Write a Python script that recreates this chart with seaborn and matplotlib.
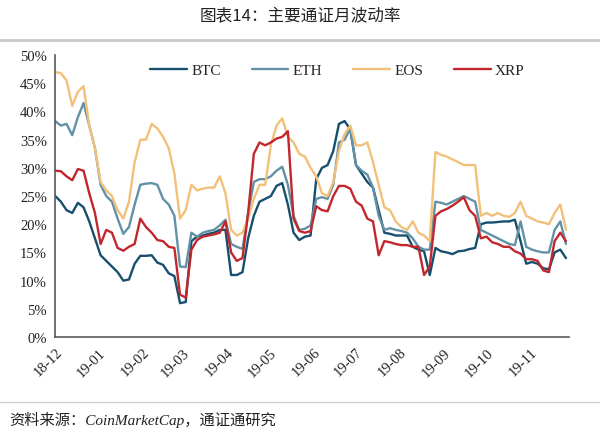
import numpy as np
import pandas as pd
import matplotlib
matplotlib.use("Agg")
import matplotlib.pyplot as plt
import matplotlib.dates as mdates
import seaborn as sns

# 月波动率（%），每4天一个读数，2018-12-01 起
dates = pd.date_range("2018-12-01", periods=91, freq="4D")

btc = [25.0, 24.0, 22.5, 22.0, 23.8, 23.0, 20.5, 17.5, 14.5, 13.5,
       12.5, 11.5, 10.0, 10.2, 13.0, 14.4, 14.4, 14.5, 13.2, 12.8,
       11.3, 10.8, 6.0, 6.2, 17.0, 17.8, 18.0, 18.3, 18.5, 19.0,
       19.0, 11.0, 11.0, 11.5, 17.5, 21.5, 24.0, 24.5, 25.0, 26.8,
       27.3, 23.5, 18.5, 17.2, 17.8, 18.0, 28.0, 30.0, 30.5, 33.0,
       37.8, 38.3, 36.8, 30.5, 29.0, 27.5, 26.5, 22.5, 18.5, 18.3,
       18.0, 18.0, 18.0, 16.0, 15.5, 15.2, 11.0, 15.8, 15.2, 15.0,
       14.7, 15.2, 15.3, 15.6, 15.8, 20.0, 20.3, 20.3, 20.4, 20.5,
       20.5, 20.8, 17.0, 13.0, 13.3, 13.0, 12.2, 12.0, 15.0, 15.5,
       14.0]

eth = [38.3, 37.5, 37.8, 35.8, 39.0, 41.5, 37.5, 33.5, 27.0, 25.0,
       24.0, 21.0, 18.3, 19.5, 23.5, 27.0, 27.2, 27.3, 27.0, 24.5,
       23.5, 21.5, 12.5, 12.4, 18.5, 17.8, 18.5, 18.8, 19.0, 19.8,
       20.8, 16.5, 16.0, 15.6, 22.0, 27.5, 28.0, 28.0, 28.5, 29.5,
       30.2, 27.0, 21.5, 19.0, 19.2, 19.8, 24.5, 24.8, 24.5, 27.0,
       34.5, 35.0, 37.0, 30.5, 29.5, 28.8, 26.5, 21.5, 19.0, 19.3,
       19.0, 18.8, 18.5, 17.5, 16.0, 15.5, 15.5, 24.0, 23.8, 23.5,
       24.0, 24.5, 25.0, 24.5, 24.0, 19.0, 18.5, 18.0, 17.5, 17.0,
       16.5, 16.3, 20.5, 16.0, 15.5, 15.2, 15.0, 15.0, 19.0, 20.5,
       16.5]

eos = [47.0, 46.8, 45.5, 41.0, 43.5, 44.5, 37.5, 33.5, 27.5, 26.0,
       25.0, 22.5, 21.0, 24.0, 31.0, 35.0, 35.0, 37.8, 37.0, 35.5,
       33.5, 29.0, 21.0, 22.5, 27.0, 26.0, 26.3, 26.5, 26.5, 28.5,
       25.5, 19.0, 18.0, 18.5, 21.0, 24.5, 27.0, 27.0, 34.0, 37.5,
       38.8, 35.5, 34.5, 32.5, 32.0, 30.0, 28.5, 25.5, 25.0, 27.5,
       33.0, 36.0, 37.5, 34.0, 34.0, 34.5, 31.0, 27.0, 23.0, 22.5,
       20.5, 19.5, 19.0, 20.5, 18.5, 18.0, 17.0, 32.8, 32.3, 32.0,
       31.5, 31.0, 30.5, 30.5, 30.5, 21.5, 22.0, 21.5, 22.0, 21.5,
       21.3, 22.0, 24.0, 21.5, 21.0, 20.5, 20.3, 20.0, 22.0, 23.5,
       19.0]

xrp = [29.5, 29.4, 28.5, 27.8, 29.8, 29.5, 25.5, 22.0, 16.5, 19.0,
       18.5, 15.8, 15.3, 16.0, 16.5, 21.0, 19.5, 18.5, 17.2, 17.0,
       16.0, 15.8, 7.5, 7.0, 15.5, 17.2, 17.8, 18.0, 18.2, 18.5,
       20.5, 15.0, 13.5, 14.0, 22.0, 32.5, 34.5, 34.0, 34.5, 35.2,
       35.5, 36.5, 21.0, 18.8, 18.5, 18.8, 23.2, 22.5, 22.3, 25.0,
       26.8, 26.8, 26.3, 24.0, 23.3, 21.0, 20.5, 14.5, 17.0, 16.8,
       16.5, 16.3, 16.3, 16.0, 16.0, 11.0, 12.5, 21.5, 22.3, 22.7,
       23.3, 24.0, 24.8, 22.5, 21.5, 17.5, 17.8, 16.8, 16.5, 16.0,
       16.0, 15.2, 14.8, 13.8, 13.8, 13.5, 11.8, 11.5, 17.0, 18.5,
       17.0]

names = ["BTC", "ETH", "EOS", "XRP"]
colors = {"BTC": "#17506e", "ETH": "#6391a5", "EOS": "#f3c07a", "XRP": "#c1272d"}

df = pd.concat([
    pd.DataFrame({"date": dates, "vol": np.array(v) / 100, "coin": n})
    for n, v in zip(names, [btc, eth, eos, xrp])
])

sns.set_style("white")
plt.rcParams['font.family'] = ['Liberation Serif', 'Noto Sans CJK SC']

fig = plt.figure(figsize=(6, 4.35), dpi=100)
ax = fig.add_axes([0.092, 0.223, 0.856, 0.648])

sns.lineplot(data=df, x="date", y="vol", hue="coin", hue_order=names,
             palette=colors, linewidth=1.7, ax=ax)

ax.set_ylim(0, 0.5)
ax.set_yticks(np.arange(0, 0.51, 0.05))
ax.set_yticklabels([f"{int(round(t * 100))}%" for t in np.arange(0, 0.51, 0.05)])
ax.set_xlim(pd.Timestamp("2018-12-01"), pd.Timestamp("2019-11-28"))
ax.xaxis.set_major_locator(mdates.MonthLocator())
ax.xaxis.set_major_formatter(mdates.DateFormatter("%y-%m"))
plt.setp(ax.get_xticklabels(), rotation=45, ha="right", rotation_mode="anchor")
ax.set_xlabel("")
ax.set_ylabel("")

for s in ["top", "right"]:
    ax.spines[s].set_visible(False)
for s in ["left", "bottom"]:
    ax.spines[s].set_color("#595959")
    ax.spines[s].set_linewidth(1.2)
ax.tick_params(axis="both", direction="out", length=4, width=1, color="#595959",
               labelsize=10.5, labelcolor="#222222", pad=2)

leg = ax.legend(loc="upper center", bbox_to_anchor=(0.55, 1.02), ncol=4, frameon=False,
                fontsize=11, handlelength=2.4, handletextpad=0.3, columnspacing=2.0)

fig.text(0.5, 0.962, "图表14：主要通证月波动率", ha="center", va="center",
         fontsize=12, family=["Noto Sans CJK SC"], color="#222222")
fig.add_artist(plt.Line2D([0, 1], [0.905, 0.905], color="#c8c8c8", linewidth=2))
fig.add_artist(plt.Line2D([0, 1], [0.073, 0.073], color="#d0d0d0", linewidth=1))
fig.text(0.015, 0.035, "资料来源：CoinMarketCap，通证通研究", ha="left", va="center",
         fontsize=11, style="italic", family=["Liberation Serif", "Noto Sans CJK SC"],
         color="#222222")

fig.savefig("out.png", dpi=100)
